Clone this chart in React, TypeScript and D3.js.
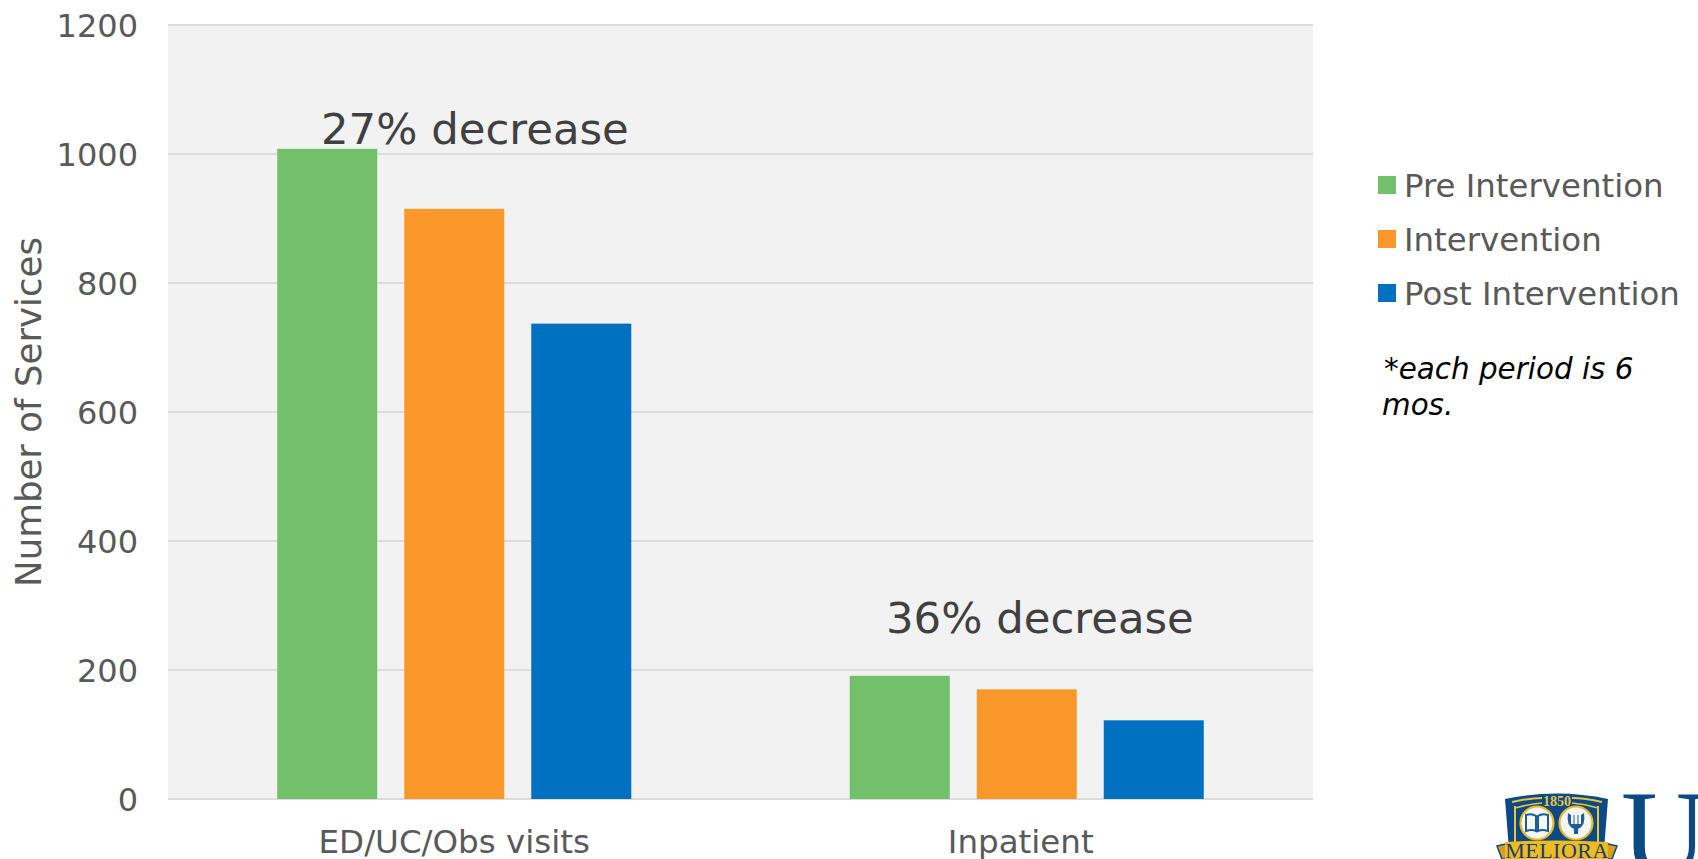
import React from "react";
import * as d3 from "d3";

const categories = ["ED/UC/Obs visits", "Inpatient"];
const seriesNames = ["Pre Intervention", "Intervention", "Post Intervention"];
const seriesColors = ["#73c06b", "#f99829", "#0071c1"];
const preValues = [1008, 191];
const interventionValues = [915, 170];
const postValues = [737, 122];
const seriesValues = [preValues, interventionValues, postValues];
const decreaseLabels = ["27% decrease", "36% decrease"];
const yTicks = [0, 200, 400, 600, 800, 1000, 1200];

const FONT = '"DejaVu Sans", Verdana, sans-serif';
const TICK_COLOR = "#595959";

const plot = { left: 168, right: 1313, top: 25, bottom: 799 };

const y = d3.scaleLinear().domain([0, 1200]).range([plot.bottom, plot.top]);
const x0 = d3.scaleBand<string>().domain(categories).range([plot.left, plot.right]);
const x1 = d3
  .scaleBand<string>()
  .domain(seriesNames)
  .range([0, x0.bandwidth()])
  .paddingInner(0.2126)
  .paddingOuter(0.86);

// Crest and wordmark in the lower right corner, cut off by the page edge.
function Crest() {
  return (
    <g>
      <path d="M1505 799 Q1557 788 1608 799 L1604 850 L1509 850 Z" fill="#0b4a86" />
      <path d="M1512 802 Q1530 798 1542 798 M1572 798 Q1585 798 1602 802" stroke="#e9c53c" strokeWidth={2} fill="none" />
      <path d="M1515 808 Q1530 804 1542 803 M1572 803 Q1585 804 1598 808" stroke="#e9c53c" strokeWidth={1.5} fill="none" />
      <path d="M1515 806 V842 M1598 806 V842" stroke="#e9c53c" strokeWidth={2} fill="none" />
      <text x={1557} y={806} textAnchor="middle" fontFamily='"Liberation Serif", serif' fontSize={14} fontWeight={700} fill="#e9c53c">1850</text>
      <circle cx={1537} cy={823} r={16.5} fill="#f4f6f8" stroke="#e9b826" strokeWidth={2.2} />
      <circle cx={1576} cy={823} r={16.5} fill="#f4f6f8" stroke="#e9b826" strokeWidth={2.2} />
      <path d="M1526 815 Q1532 813 1536 816 V831 Q1532 829 1526 831 Z M1538 816 Q1542 813 1548 815 V831 Q1542 829 1538 831 Z" fill="#f4f6f8" stroke="#1d5c96" strokeWidth={2} />
      <path d="M1568 813 Q1566 826 1574 829 V834 H1578 V829 Q1586 826 1584 813 L1581 815 V824 H1571 V815 Z" fill="#1d5c96" />
      <path d="M1574 815 V824 M1578 815 V824" stroke="#1d5c96" strokeWidth={1} />
      <path d="M1497 846 L1510 843 L1510 859 L1502 859 Z M1617 846 L1604 843 L1604 859 L1612 859 Z" fill="#d99f1c" stroke="#0b4a86" strokeWidth={1.5} />
      <path d="M1505 842 Q1557 839 1608 842 L1608 859 L1505 859 Z" fill="#efbb22" />
      <text x={1557} y={858} textAnchor="middle" fontFamily='"Liberation Serif", serif' fontSize={22} letterSpacing={0.5} fill="#173f6d">MELIORA</text>
      <text x={1621} y={874} fontFamily='"Liberation Serif", serif' fontSize={120} fill="#0b4a86">U</text>
    </g>
  );
}

export default function App() {
  return (
    <svg
      width={1698}
      height={859}
      viewBox="0 0 1698 859"
      style={{ position: "absolute", left: 0, top: 0, display: "block", background: "#fff" }}
      fontFamily={FONT}
    >
      <rect x={plot.left} y={plot.top} width={plot.right - plot.left} height={plot.bottom - plot.top} fill="#f2f2f2" />

      {yTicks.map((t) => (
        <g key={t}>
          <line x1={plot.left} x2={plot.right} y1={y(t)} y2={y(t)} stroke="#dcdcdc" strokeWidth={2} />
          <text x={138} y={y(t)} dy="0.36em" textAnchor="end" fontSize={32} fill={TICK_COLOR}>
            {t}
          </text>
        </g>
      ))}

      {categories.map((c, ci) => (
        <g key={c} transform={`translate(${x0(c)},0)`}>
          {seriesNames.map((s, si) => (
            <rect
              key={s}
              x={x1(s)}
              y={y(seriesValues[si][ci])}
              width={x1.bandwidth()}
              height={plot.bottom - y(seriesValues[si][ci])}
              fill={seriesColors[si]}
            />
          ))}
          {/* The second category label sits slightly left of its band centre. */}
          <text
            x={x0.bandwidth() / 2 + (ci === 1 ? -6 : 0)}
            y={852.5}
            textAnchor="middle"
            fontSize={32.5}
            fill={TICK_COLOR}
          >
            {c}
          </text>
        </g>
      ))}

      <text x={321} y={144} fontSize={43.4} fill="#404040">{decreaseLabels[0]}</text>
      <text x={886} y={633} fontSize={43.4} fill="#404040">{decreaseLabels[1]}</text>

      <text
        transform="translate(41,412) rotate(-90)"
        textAnchor="middle"
        fontSize={35.6}
        fill={TICK_COLOR}
      >
        Number of Services
      </text>

      {seriesNames.map((s, i) => {
        const cy = 185 + i * 54;
        return (
          <g key={s}>
            <rect x={1378} y={cy - 9} width={18} height={18} fill={seriesColors[i]} />
            <text x={1404} y={cy} dy="0.36em" fontSize={32.4} fill={TICK_COLOR}>
              {s}
            </text>
          </g>
        );
      })}

      <text fontSize={29.4} fontStyle="italic" fill="#000">
        <tspan x={1384} y={379}>*each period is 6</tspan>
        <tspan x={1382} y={415}>mos.</tspan>
      </text>

      <Crest />
    </svg>
  );
}
